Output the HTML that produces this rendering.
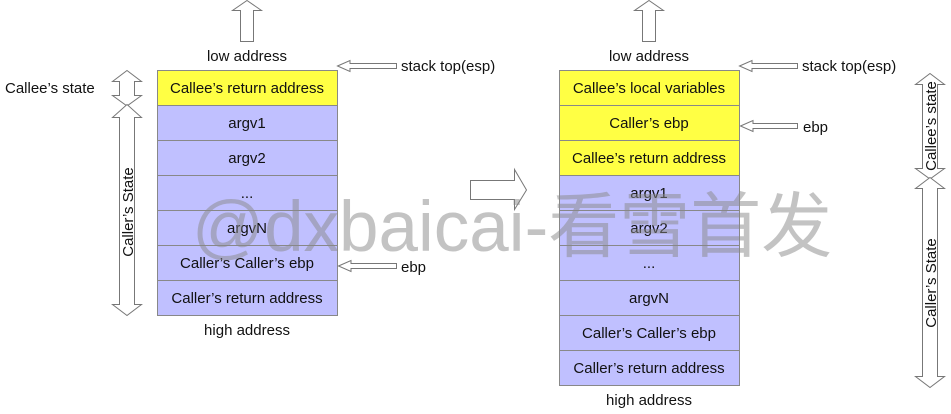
<!DOCTYPE html>
<html><head><meta charset="utf-8"><style>
html,body{margin:0;padding:0;background:#fff;}
svg{display:block;}
text{font-family:"Liberation Sans","Noto Sans CJK SC",sans-serif;font-size:15px;fill:#111;}
</style></head><body>
<svg width="951" height="414" viewBox="0 0 951 414" xmlns="http://www.w3.org/2000/svg">
<g stroke="#888" stroke-width="1">
<rect x="157.5" y="70.5" width="180" height="35" fill="#ffff44"/>
<rect x="157.5" y="105.5" width="180" height="35" fill="#c0c0ff"/>
<rect x="157.5" y="140.5" width="180" height="35" fill="#c0c0ff"/>
<rect x="157.5" y="175.5" width="180" height="35" fill="#c0c0ff"/>
<rect x="157.5" y="210.5" width="180" height="35" fill="#c0c0ff"/>
<rect x="157.5" y="245.5" width="180" height="35" fill="#c0c0ff"/>
<rect x="157.5" y="280.5" width="180" height="35" fill="#c0c0ff"/>
<rect x="559.5" y="70.5" width="180" height="35" fill="#ffff44"/>
<rect x="559.5" y="105.5" width="180" height="35" fill="#ffff44"/>
<rect x="559.5" y="140.5" width="180" height="35" fill="#ffff44"/>
<rect x="559.5" y="175.5" width="180" height="35" fill="#c0c0ff"/>
<rect x="559.5" y="210.5" width="180" height="35" fill="#c0c0ff"/>
<rect x="559.5" y="245.5" width="180" height="35" fill="#c0c0ff"/>
<rect x="559.5" y="280.5" width="180" height="35" fill="#c0c0ff"/>
<rect x="559.5" y="315.5" width="180" height="35" fill="#c0c0ff"/>
<rect x="559.5" y="350.5" width="180" height="35" fill="#c0c0ff"/>
</g>
<g stroke="#777" stroke-width="1" fill="#fff">
<polygon points="240.5,41.5 253.5,41.5 253.5,10.5 261.5,10.5 247,0.5 232.5,10.5 240.5,10.5"/>
<polygon points="642.5,41.5 655.5,41.5 655.5,10.5 663.5,10.5 649,0.5 634.5,10.5 642.5,10.5"/>
<polygon points="337.5,66 350,60.5 350,63.5 396.5,63.5 396.5,68.5 350,68.5 350,71.5"/>
<polygon points="338.5,266 351,260.5 351,263.5 396.5,263.5 396.5,268.5 351,268.5 351,271.5"/>
<polygon points="739.5,66 752,60.5 752,63.5 797.5,63.5 797.5,68.5 752,68.5 752,71.5"/>
<polygon points="740.5,126 753,120.5 753,123.5 797.5,123.5 797.5,128.5 753,128.5 753,131.5"/>
<polygon points="470.5,180.5 514.5,180.5 514.5,169.5 526.5,190 514.5,209.5 514.5,199.5 470.5,199.5"/>
<polygon points="127,70.5 141.5,81.5 134.5,81.5 134.5,95.5 141.5,95.5 127,106 112.5,95.5 119.5,95.5 119.5,81.5 112.5,81.5"/>
<polygon points="127,104.5 141.5,117.5 134.5,117.5 134.5,304.5 141.5,304.5 127,315.5 112.5,304.5 119.5,304.5 119.5,117.5 112.5,117.5"/>
<polygon points="930,73.5 944.5,84.5 937.5,84.5 937.5,168.5 944.5,168.5 930,179 915.5,168.5 922.5,168.5 922.5,84.5 915.5,84.5"/>
<polygon points="930,177.5 944.5,188.5 937.5,188.5 937.5,376.5 944.5,376.5 930,387.5 915.5,376.5 922.5,376.5 922.5,188.5 915.5,188.5"/>
</g>
<g text-anchor="middle">
<text x="247" y="61">low address</text>
<text x="247" y="335">high address</text>
<text x="649" y="61">low address</text>
<text x="649" y="405">high address</text>
<text x="247" y="93">Callee’s return address</text>
<text x="247" y="128">argv1</text>
<text x="247" y="163">argv2</text>
<text x="247" y="198">...</text>
<text x="247" y="233">argvN</text>
<text x="247" y="268">Caller’s Caller’s ebp</text>
<text x="247" y="303">Caller’s return address</text>
<text x="649" y="93">Callee’s local variables</text>
<text x="649" y="128">Caller’s ebp</text>
<text x="649" y="163">Callee’s return address</text>
<text x="649" y="198">argv1</text>
<text x="649" y="233">argv2</text>
<text x="649" y="268">...</text>
<text x="649" y="303">argvN</text>
<text x="649" y="338">Caller’s Caller’s ebp</text>
<text x="649" y="373">Caller’s return address</text>
<text transform="translate(133,212) rotate(-90)">Caller’s State</text>
<text transform="translate(936,126) rotate(-90)">Callee’s state</text>
<text transform="translate(936,283) rotate(-90)">Caller’s State</text>
</g>
<text x="401" y="71">stack top(esp)</text>
<text x="401" y="272">ebp</text>
<text x="802" y="71">stack top(esp)</text>
<text x="803" y="132">ebp</text>
<text x="5" y="93">Callee’s state</text>
<text x="192" y="251" style="font-size:71px;fill:#888;fill-opacity:0.5;">@dxbaicai-看雪首发</text>
</svg>
</body></html>
